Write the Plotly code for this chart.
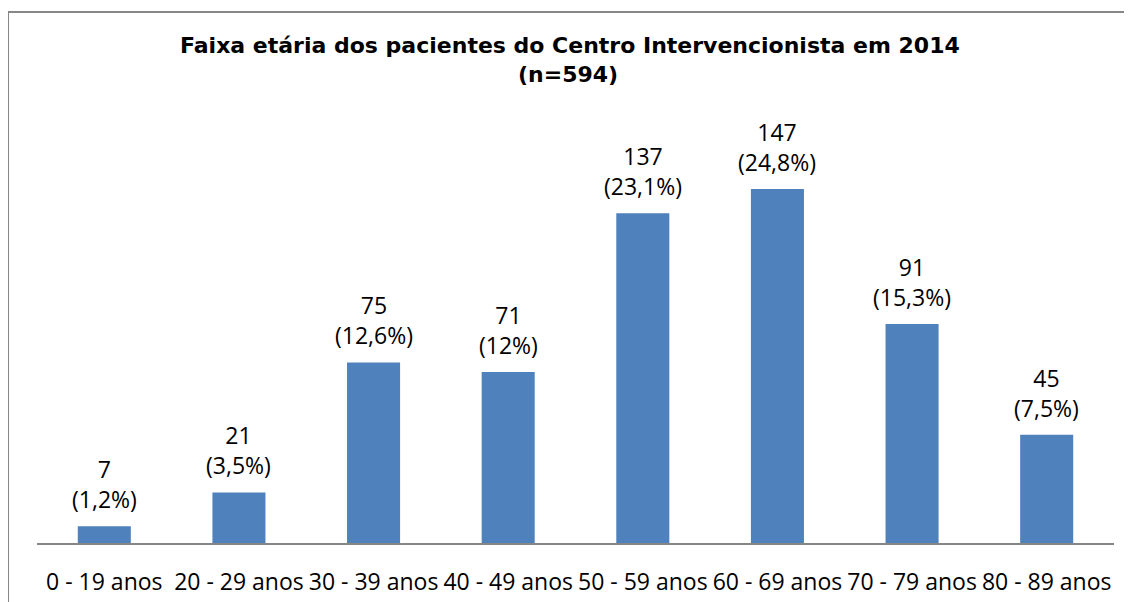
import plotly.graph_objects as go

categories = ["0 - 19 anos", "20 - 29 anos", "30 - 39 anos", "40 - 49 anos",
              "50 - 59 anos", "60 - 69 anos", "70 - 79 anos", "80 - 89 anos"]
counts = [7, 21, 75, 71, 137, 147, 91, 45]
percents = ["1,2%", "3,5%", "12,6%", "12%", "23,1%", "24,8%", "15,3%", "7,5%"]

labels = [f"{c}<br>({p})" for c, p in zip(counts, percents)]

# page body has an 8px margin; work in reference pixel coords and offset
OFF = 8
W, H = 1132 - OFF, 602 - OFF
l, r, t, b = 37 - OFF, 1132 - 1114, 100 - OFF, 602 - 543
pw, ph = W - l - r, H - t - b


def px_x(p):
    return (p - OFF - l) / pw


def px_y(p):
    return (H - b - (p - OFF)) / ph


fig = go.Figure(go.Bar(
    x=categories, y=counts,
    marker=dict(color="#4F81BD", line=dict(width=0)),
    width=0.394,
))

for c, n, txt in zip(categories, counts, labels):
    fig.add_annotation(x=c, y=n, text=txt, showarrow=False,
                       xanchor="center", yanchor="bottom", yshift=9,
                       font=dict(family="Open Sans", size=23, color="#000000"))

fig.add_shape(type="rect", xref="paper", yref="paper",
              x0=px_x(8), x1=px_x(1160), y0=px_y(640), y1=px_y(12),
              line=dict(color="#878787", width=2), fillcolor="rgba(0,0,0,0)", layer="below")

title_font = dict(family="DejaVu Sans", size=22, color="#000000")
fig.add_annotation(xref="paper", yref="paper", x=px_x(570), y=px_y(45),
                   text="<b>Faixa etária dos pacientes do Centro Intervencionista em 2014</b>",
                   showarrow=False, xanchor="center", yanchor="middle", font=title_font)
fig.add_annotation(xref="paper", yref="paper", x=px_x(568), y=px_y(75),
                   text="<b>(n=594)</b>",
                   showarrow=False, xanchor="center", yanchor="middle", font=title_font)

fig.update_layout(
    width=W, height=H,
    margin=dict(l=l, r=r, t=t, b=b, autoexpand=False),
    paper_bgcolor="white", plot_bgcolor="white",
    showlegend=False,
    xaxis=dict(showline=True, linecolor="#868686", linewidth=1.5, ticks="",
               tickfont=dict(family="Open Sans", size=23, color="#000000"),
               ticklabelstandoff=18, showgrid=False, automargin=False),
    yaxis=dict(visible=False, range=[0, 184], showgrid=False, automargin=False),
)

fig.write_html("out.html")
